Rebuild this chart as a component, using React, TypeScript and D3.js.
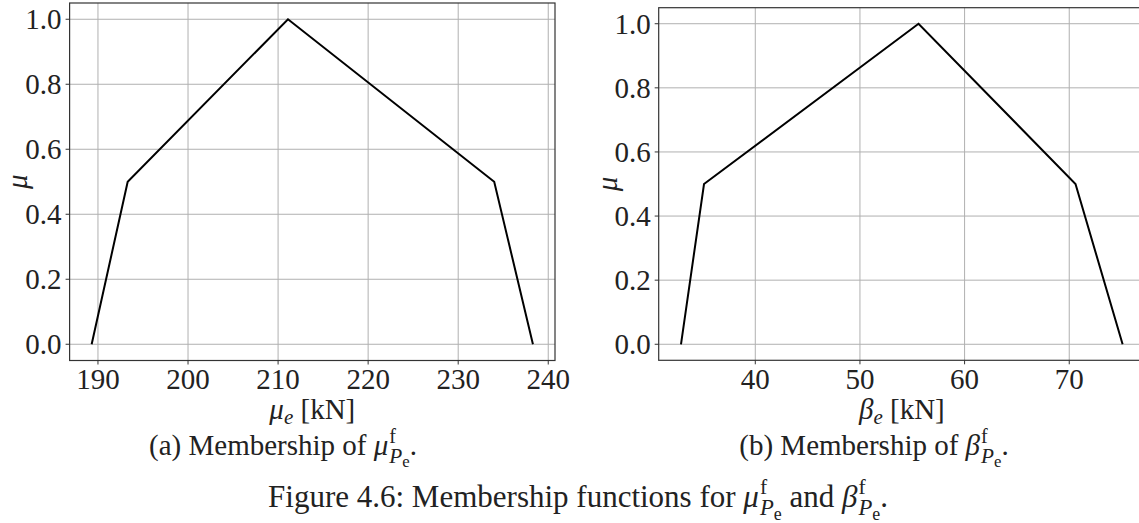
import { useEffect, useRef } from "react";
import * as d3 from "d3";

// membership function break points
const muX = [189.3, 193.3, 211.1, 234.0, 238.3];
const muY = [0, 0.5, 1, 0.5, 0];
const betaX = [32.9, 35.1, 55.6, 70.6, 75.1];
const betaY = [0, 0.5, 1, 0.5, 0];

const muTicks = [190, 200, 210, 220, 230, 240];
const betaTicks = [40, 50, 60, 70];
const yTicks = [0, 0.2, 0.4, 0.6, 0.8, 1.0];

const FONT = "'Liberation Serif', 'Times New Roman', serif";
const TEXT = "#222";

type Seg = { t: string; it?: boolean; size?: number; dx?: number; dy?: number };

function writeMath(el: any, segs: Seg[]) {
  segs.forEach((s) => {
    const ts = el.append("tspan").text(s.t);
    if (s.it) ts.attr("font-style", "italic");
    if (s.size) ts.attr("font-size", s.size);
    if (s.dx) ts.attr("dx", s.dx);
    if (s.dy) ts.attr("dy", s.dy);
  });
}

// symbol with superscript f and subscript P_e stacked
function fuzzySym(sym: string, base: number, end: string): Seg[] {
  const k = base / 26;
  return [
    { t: sym, it: true },
    { t: "f", size: 18 * k, dy: -11 * k, dx: 1 },
    { t: "P", it: true, size: 19 * k, dx: -6 * k, dy: 18 * k },
    { t: "e", size: 15 * k, dy: 4 * k },
    { t: end, size: base, dy: -11 * k },
  ];
}

export default function App() {
  const svgRef = useRef<SVGSVGElement>(null);

  useEffect(() => {
    const svg = d3.select(svgRef.current);
    svg.selectAll("*").remove();

    const panels = [
      {
        xs: muX, ys: muY, ticks: muTicks,
        xDom: [186.85, 240.75], xRange: [69.6, 555], yRange: [360.5, 3],
        label: "μ", yLabX: 27, cap: "a", capX: 283,
      },
      {
        xs: betaX, ys: betaY, ticks: betaTicks,
        xDom: [30.77, 77.24], xRange: [658.7, 1145], yRange: [360.3, 7.7],
        label: "β", yLabX: 617, cap: "b", capX: 874,
      },
    ];

    panels.forEach((p) => {
      const x = d3.scaleLinear().domain(p.xDom).range(p.xRange);
      const y = d3.scaleLinear().domain([-0.05, 1.05]).range(p.yRange);
      const [x0, x1] = p.xRange;
      const [yb, yt] = p.yRange;
      const g = svg.append("g");

      // grid
      g.selectAll(".gx")
        .data(p.ticks)
        .enter()
        .append("line")
        .attr("x1", (d) => x(d))
        .attr("x2", (d) => x(d))
        .attr("y1", yt)
        .attr("y2", yb)
        .attr("stroke", "#b0b0b0")
        .attr("stroke-width", 1);
      g.selectAll(".gy")
        .data(yTicks)
        .enter()
        .append("line")
        .attr("x1", x0)
        .attr("x2", x1)
        .attr("y1", (d) => y(d))
        .attr("y2", (d) => y(d))
        .attr("stroke", "#b0b0b0")
        .attr("stroke-width", 1);

      // frame
      g.append("rect")
        .attr("x", x0)
        .attr("y", yt)
        .attr("width", x1 - x0)
        .attr("height", yb - yt)
        .attr("fill", "none")
        .attr("stroke", "#333")
        .attr("stroke-width", 1.2);

      // ticks
      g.selectAll(".tx")
        .data(p.ticks)
        .enter()
        .append("line")
        .attr("x1", (d) => x(d))
        .attr("x2", (d) => x(d))
        .attr("y1", yb)
        .attr("y2", yb + 4)
        .attr("stroke", "#333");
      g.selectAll(".ty")
        .data(yTicks)
        .enter()
        .append("line")
        .attr("x1", x0 - 4)
        .attr("x2", x0)
        .attr("y1", (d) => y(d))
        .attr("y2", (d) => y(d))
        .attr("stroke", "#333");

      g.selectAll(".lx")
        .data(p.ticks)
        .enter()
        .append("text")
        .attr("x", (d) => x(d))
        .attr("y", 389)
        .attr("text-anchor", "middle")
        .attr("font-family", FONT)
        .attr("font-size", 29)
        .attr("fill", TEXT)
        .text((d) => d);
      g.selectAll(".ly")
        .data(yTicks)
        .enter()
        .append("text")
        .attr("x", x0 - 8)
        .attr("y", (d) => y(d) + 10)
        .attr("text-anchor", "end")
        .attr("font-family", FONT)
        .attr("font-size", 29)
        .attr("fill", TEXT)
        .text((d) => d3.format(".1f")(d));

      // membership line
      const line = d3
        .line<number>()
        .x((d, i) => x(p.xs[i]))
        .y((d) => y(d));
      g.append("path")
        .attr("d", line(p.ys))
        .attr("fill", "none")
        .attr("stroke", "black")
        .attr("stroke-width", 2);

      // axis labels
      g.append("text")
        .attr("transform", `translate(${p.yLabX},${(yt + yb) / 2}) rotate(-90)`)
        .attr("text-anchor", "middle")
        .attr("font-family", FONT)
        .attr("font-size", 29)
        .attr("font-style", "italic")
        .attr("fill", TEXT)
        .text("μ");

      const xl = g
        .append("text")
        .attr("x", (x0 + x1) / 2)
        .attr("y", 419)
        .attr("text-anchor", "middle")
        .attr("font-family", FONT)
        .attr("font-size", 29)
        .attr("fill", TEXT);
      writeMath(xl, [
        { t: p.label, it: true },
        { t: "e", it: true, size: 21, dy: 5 },
        { t: " [kN]", size: 29, dy: -5 },
      ]);

      const cap = g
        .append("text")
        .attr("x", p.capX)
        .attr("y", 455)
        .attr("text-anchor", "middle")
        .attr("font-family", FONT)
        .attr("font-size", 29)
        .attr("fill", TEXT);
      writeMath(cap, [{ t: `(${p.cap}) Membership of ` }, ...fuzzySym(p.label, 29, ".")]);
    });

    const fig = svg
      .append("text")
      .attr("x", 578)
      .attr("y", 507)
      .attr("text-anchor", "middle")
      .attr("font-family", FONT)
      .attr("font-size", 31)
      .attr("fill", TEXT);
    writeMath(fig, [
      { t: "Figure 4.6: Membership functions for " },
      ...fuzzySym("μ", 31, " and "),
      ...fuzzySym("β", 31, "."),
    ]);
  }, []);

  return (
    <svg
      ref={svgRef}
      width={1139}
      height={523}
      style={{ position: "absolute", left: 0, top: 0, background: "white" }}
    />
  );
}
